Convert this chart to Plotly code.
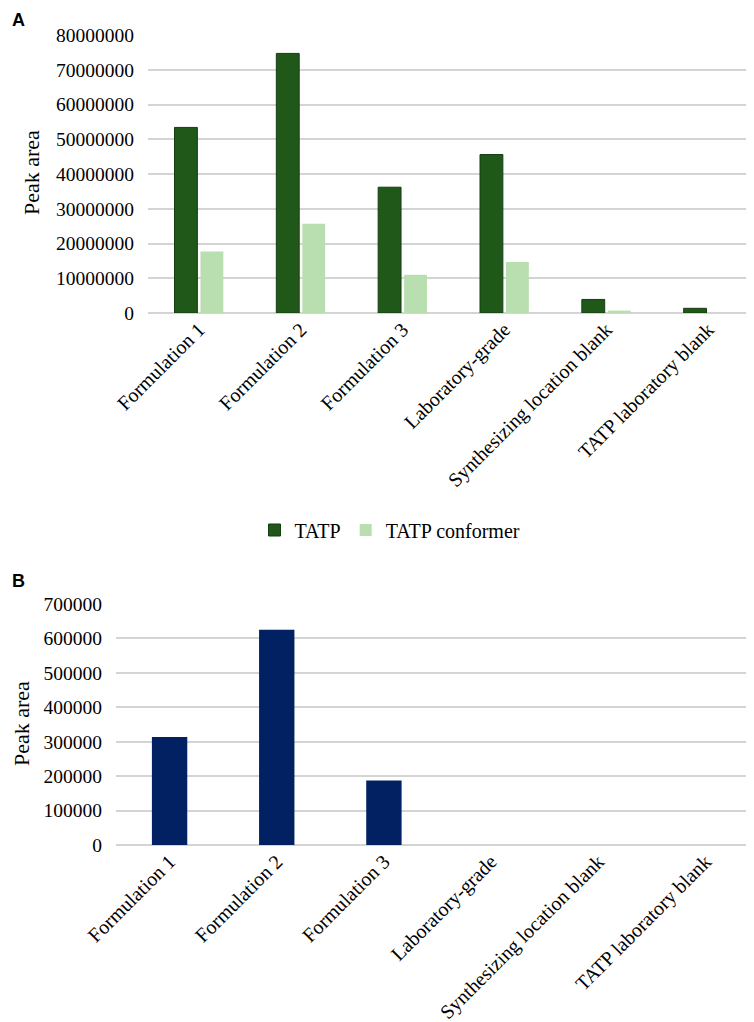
import plotly.graph_objects as go

categories = ["Formulation 1", "Formulation 2", "Formulation 3",
              "Laboratory-grade", "Synthesizing location blank", "TATP laboratory blank"]

# panel A
tatp = [53400000, 74700000, 36200000, 45600000, 3900000, 1350000]
tatp_conformer = [17700000, 25700000, 11000000, 14700000, 700000, 0]

# panel B
panel_b = [314000, 625000, 187000, 0, 0, 0]

W, H = 754, 1022
serif = "Liberation Serif, Times New Roman, serif"
grid = "#d4d4d4"

fig = go.Figure()

fig.add_trace(go.Bar(x=categories, y=tatp, name="TATP", marker=dict(color="#1f5819", line=dict(color="#143d10", width=1)),
                     xaxis="x", yaxis="y"))
fig.add_trace(go.Bar(x=categories, y=tatp_conformer, name="TATP conformer", marker=dict(color="#b9dfb1", line=dict(width=0)),
                     xaxis="x", yaxis="y"))
fig.add_trace(go.Bar(x=categories, y=panel_b, name="B", showlegend=False, marker=dict(color="#022162", line=dict(width=0)),
                     xaxis="x2", yaxis="y2", width=0.33))

def px_x(p):
    return p / W

def px_y(p):
    return 1 - p / H

tick_font = dict(family=serif, size=19.5, color="#000000")
cat_font = dict(family=serif, size=20, color="#000000")

fig.update_layout(
    width=W, height=H,
    margin=dict(l=0, r=0, t=0, b=0),
    paper_bgcolor="white", plot_bgcolor="white",
    barmode="group", bargap=0.49, bargroupgap=0.12,
    font=tick_font,
    showlegend=True,
    legend=dict(orientation="h", x=px_x(382), xanchor="center", y=px_y(522), yanchor="middle",
                font=dict(family=serif, size=20), itemwidth=30, traceorder="normal"),
    xaxis=dict(domain=[px_x(140), px_x(751)], anchor="y", tickangle=-45, tickfont=cat_font,
               showgrid=False, showline=False, ticks="", automargin=False),
    yaxis=dict(domain=[px_y(305), px_y(27)], anchor="x", range=[0, 80000000], dtick=10000000,
               tickformat="d", tickfont=tick_font, showgrid=True, gridcolor=grid, gridwidth=1.5,
               zeroline=True, zerolinecolor=grid, zerolinewidth=2, showline=False, ticks="",
               ticklabelstandoff=13, automargin=False),
    xaxis2=dict(domain=[px_x(108), px_x(751)], anchor="y2", tickangle=-45, tickfont=cat_font,
                showgrid=False, showline=False, ticks="", automargin=False),
    yaxis2=dict(domain=[px_y(837), px_y(596)], anchor="x2", range=[0, 700000], dtick=100000,
                tickformat="d", tickfont=tick_font, showgrid=True, gridcolor=grid, gridwidth=1.5,
                zeroline=True, zerolinecolor=grid, zerolinewidth=2, showline=False, ticks="",
                ticklabelstandoff=13, automargin=False),
    annotations=[
        dict(text="<b>A</b>", x=px_x(2), y=px_y(12), xref="paper", yref="paper", xanchor="left", yanchor="middle",
             showarrow=False, font=dict(family="Liberation Sans, Arial, sans-serif", size=18, color="black")),
        dict(text="<b>B</b>", x=px_x(2), y=px_y(573), xref="paper", yref="paper", xanchor="left", yanchor="middle",
             showarrow=False, font=dict(family="Liberation Sans, Arial, sans-serif", size=18, color="black")),
        dict(text="Peak area", x=px_x(24), y=px_y(165), xref="paper", yref="paper", xanchor="center",
             yanchor="middle", textangle=-90, showarrow=False, font=dict(family=serif, size=22, color="black")),
        dict(text="Peak area", x=px_x(13), y=px_y(716), xref="paper", yref="paper", xanchor="center",
             yanchor="middle", textangle=-90, showarrow=False, font=dict(family=serif, size=22, color="black")),
    ],
)

fig.write_html("out.html")
